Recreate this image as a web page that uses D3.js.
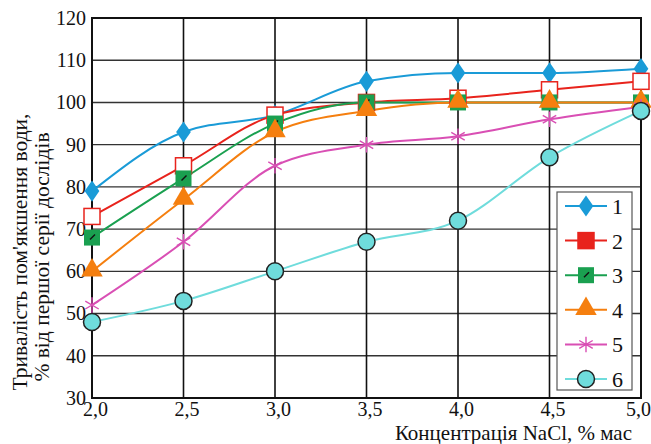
<!DOCTYPE html>
<html>
<head>
<meta charset="utf-8">
<script src="https://cdn.jsdelivr.net/npm/d3@7"></script>
<style>
  body { margin: 0; background: #fff; }
  svg text { font-family: 'Liberation Serif', 'Times New Roman', Tinos, 'DejaVu Serif', 'Noto Serif', serif !important; fill: #111; }
</style>
</head>
<body>
<div id="chart"></div>
<script>
const concentrations = [2.0, 2.5, 3.0, 3.5, 4.0, 4.5, 5.0];
const series1 = [79, 93, 97, 105, 107, 107, 108];
const series2 = [73, 85, 97, 100, 101, 103, 105];
const series3 = [68, 82, 95, 100, 100, 100, 100];
const series4 = [60, 77, 93, 98, 100, 100, 100];
const series5 = [52, 67, 85, 90, 92, 96, 99];
const series6 = [48, 53, 60, 67, 72, 87, 98];
const seriesNames = ['1', '2', '3', '4', '5', '6'];
const yTicks = [30, 40, 50, 60, 70, 80, 90, 100, 110, 120];
const yLabel1 = "Тривалість пом'якшення води,";
const yLabel2 = '% від першої серії дослідів';
const xLabel = 'Концентрація NaCl, % мас';

const width = 651, height = 444;
const margin = { top: 18, right: 10, bottom: 46, left: 92 };
const plotW = width - margin.left - margin.right;
const plotH = height - margin.top - margin.bottom;

const svg = d3.select('#chart').append('svg')
    .attr('width', width)
    .attr('height', height);

const g = svg.append('g')
    .attr('transform', 'translate(' + margin.left + ',' + margin.top + ')');

const x = d3.scaleLinear().domain([2.0, 5.0]).range([0, plotW]);
const y = d3.scaleLinear().domain([30, 120]).range([plotH, 0]);

// grid
g.selectAll('.hgrid').data(yTicks).enter().append('line')
    .attr('x1', 0).attr('x2', plotW)
    .attr('y1', d => y(d)).attr('y2', d => y(d))
    .style('stroke', '#333').style('stroke-width', 1.4);
g.selectAll('.vgrid').data(concentrations).enter().append('line')
    .attr('y1', 0).attr('y2', plotH)
    .attr('x1', d => x(d)).attr('x2', d => x(d))
    .style('stroke', '#111').style('stroke-width', 1.6);
g.append('rect')
    .attr('width', plotW).attr('height', plotH)
    .style('fill', 'none').style('stroke', '#111').style('stroke-width', 2);

// tick labels
const fmt = d => d.toFixed(1).replace('.', ',');
const xAxis = d3.axisBottom(x).tickValues(concentrations).tickFormat(fmt).tickSize(0).tickPadding(4);
const yAxis = d3.axisLeft(y).tickValues(yTicks).tickSize(0).tickPadding(6);
g.append('g').attr('transform', `translate(0, ${plotH})`).call(xAxis)
    .call(a => a.select('.domain').remove())
    .selectAll('text')
    .style('font-size', '20px')
    .attr('dx', (d, i) => i === concentrations.length - 1 ? '-0.15em' : '0.15em');
g.append('g').call(yAxis)
    .call(a => a.select('.domain').remove())
    .selectAll('text').style('font-size', '20px');

svg.append('text')
    .attr('transform', 'translate(27,252) rotate(-90)')
    .style('text-anchor', 'middle').style('font-size', '21.5px')
    .text(yLabel1);
svg.append('text')
    .attr('transform', 'translate(49,257) rotate(-90)')
    .style('text-anchor', 'middle').style('font-size', '21.5px')
    .text(yLabel2);
svg.append('text')
    .attr('x', 632).attr('y', 440)
    .style('text-anchor', 'end').style('font-size', '21px')
    .text(xLabel);

// series
const allSeries = [
    { name: seriesNames[0], values: series1, color: '#1a9bd7', marker: 'diamond' },
    { name: seriesNames[1], values: series2, color: '#e8231c', marker: 'square-open' },
    { name: seriesNames[2], values: series3, color: '#1aa050', marker: 'square-tick' },
    { name: seriesNames[3], values: series4, color: '#f57f0f', marker: 'triangle' },
    { name: seriesNames[4], values: series5, color: '#d94fb4', marker: 'star' },
    { name: seriesNames[5], values: series6, color: '#6fdcdc', marker: 'circle' }
];

const line = d3.line()
    .x((d, i) => x(concentrations[i]))
    .y(d => y(d))
    .curve(d3.curveMonotoneX);

allSeries.forEach(s => {
    g.append('path')
        .datum(s.values)
        .attr('d', line)
        .style('fill', 'none')
        .style('stroke', s.color)
        .style('stroke-width', 2);
});

function drawMarker(sel, type, color, legend) {
    if (type === 'diamond') {
        sel.append('path').attr('d', d3.symbol(d3.symbolDiamond, 130)())
            .attr('transform', 'scale(1.2,1)')
            .style('fill', color);
    } else if (type === 'square-open') {
        sel.append('rect').attr('x', -8).attr('y', -8).attr('width', 16).attr('height', 16)
            .style('fill', legend ? color : '#fff').style('stroke', color).style('stroke-width', 1.5);
    } else if (type === 'square-tick') {
        sel.append('rect').attr('x', -8).attr('y', -8).attr('width', 16).attr('height', 16)
            .style('fill', color);
        sel.append('line').attr('x1', -2).attr('y1', 2).attr('x2', 3).attr('y2', -3)
            .style('stroke', '#111').style('stroke-width', 1.4);
    } else if (type === 'triangle') {
        sel.append('path').attr('d', d3.symbol(d3.symbolTriangle, 200)())
            .attr('transform', 'translate(0,-1)')
            .style('fill', color);
    } else if (type === 'star') {
        sel.append('path').attr('d', d3.symbol(d3.symbolAsterisk, 170)())
            .style('fill', 'none').style('stroke', color).style('stroke-width', 1.4);
    } else if (type === 'circle') {
        sel.append('circle').attr('r', 8.5)
            .style('fill', color).style('stroke', '#222').style('stroke-width', 1.5);
    }
}

allSeries.forEach(s => {
    s.values.forEach((v, i) => {
        const m = g.append('g').attr('transform', `translate(${x(concentrations[i])},${y(v)})`);
        drawMarker(m, s.marker, s.color, false);
    });
});

// legend
const legend = svg.append('g').attr('transform', 'translate(557,192)');
legend.append('rect')
    .attr('width', 75).attr('height', 198)
    .style('fill', '#fff').style('stroke', '#555').style('stroke-width', 1.2);
allSeries.forEach((s, i) => {
    const row = legend.append('g').attr('transform', `translate(0, ${14 + i * 34.6})`);
    row.append('line').attr('x1', 8).attr('x2', 50)
        .style('stroke', s.color).style('stroke-width', 2);
    const m = row.append('g').attr('transform', 'translate(29,0)');
    drawMarker(m, s.marker, s.color, true);
    row.append('text').attr('x', 55).attr('y', 8)
        .style('font-size', '22px').text(s.name);
});
</script>
</body>
</html>
